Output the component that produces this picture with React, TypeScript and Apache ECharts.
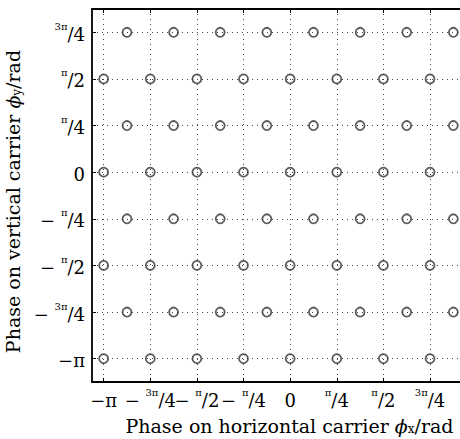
import React, { useEffect, useRef } from 'react';
import * as echarts from 'echarts';

// Units: multiples of pi/4
const Q = Math.PI / 4;
const tickUnits = [-4, -3, -2, -1, 0, 1, 2, 3];
const xTickLabels = [
  '{b|−π}',
  '{b|− }{s|3π}{b|/4}',
  '{b|− }{s|π}{b|/2}',
  '{b|− }{s|π}{b|/4}',
  '{b|0}',
  '{s|π}{b|/4}',
  '{s|π}{b|/2}',
  '{s|3π}{b|/4}',
];
const yTickLabels = [
  '{b|−π}',
  '{b|− }{s|3π}{b|/4}',
  '{b|− }{s|π}{b|/2}',
  '{b|− }{s|π}{b|/4}',
  '{b|0}',
  '{s|π}{b|/4}',
  '{s|π}{b|/2}',
  '{s|3π}{b|/4}',
];
const plainCols = [-4, -3, -2, -1, 0, 1, 2, 3];
const shiftedCols = [-3.5, -2.5, -1.5, -0.5, 0.5, 1.5, 2.5, 3.5];
const plainRows = [-4, -2, 0, 2];
const shiftedRows = [-3, -1, 1, 3];

const AXIS_MIN = (-17 * Math.PI) / 16;
const AXIS_MAX = (15 * Math.PI) / 16;

const FONT = 'DejaVu Serif';

const rich = {
  b: { fontFamily: FONT, fontSize: 18, color: '#000', lineHeight: 22, verticalAlign: 'bottom' },
  s: { fontFamily: FONT, fontSize: 10, color: '#000', lineHeight: 12, verticalAlign: 'top' },
};

const nameRich = {
  t: { fontFamily: FONT, fontSize: 19, color: '#000', lineHeight: 26, verticalAlign: 'bottom' },
  i: { fontFamily: FONT, fontSize: 19, fontStyle: 'italic', color: '#000', lineHeight: 26, verticalAlign: 'bottom' },
  sub: { fontFamily: FONT, fontSize: 12, color: '#000', lineHeight: 18, verticalAlign: 'bottom' },
};

const tickValues = tickUnits.map((u) => u * Q);

function labelFor(arr: string[]) {
  return (v: number) => {
    const idx = tickUnits.indexOf(Math.round(v / Q));
    return idx >= 0 ? arr[idx] : '';
  };
}

const gridLine = { show: true, lineStyle: { color: '#444', width: 1, type: [1, 4] as any } };

export default function App() {
  const ref = useRef<HTMLDivElement>(null);
  useEffect(() => {
    if (!ref.current) return;
    const chart = echarts.init(ref.current, undefined, { renderer: 'svg' });
    const points: number[][] = [];
    plainRows.forEach((r) => plainCols.forEach((c) => points.push([c * Q, r * Q])));
    shiftedRows.forEach((r) => shiftedCols.forEach((c) => points.push([c * Q, r * Q])));

    const axisLine = { show: true, onZero: false, lineStyle: { color: '#000', width: 1.8 } };
    const axisTick = { show: true, inside: true, length: 4, customValues: tickValues, lineStyle: { color: '#000', width: 1 } };

    chart.setOption({
      animation: false,
      backgroundColor: '#fff',
      textStyle: { fontFamily: FONT },
      grid: { left: 92, top: 9, width: 373, height: 373, containLabel: false, outerBoundsMode: 'none' },
      xAxis: [
        {
          type: 'value',
          min: AXIS_MIN,
          max: AXIS_MAX,
          position: 'bottom',
          axisLine,
          axisTick,
          splitLine: gridLine,
          axisLabel: {
            show: true,
            margin: 5,
            customValues: tickValues,
            formatter: labelFor(xTickLabels),
            fontFamily: FONT,
            rich,
          },
          name: '{t|Phase on horizontal carrier }{i|ϕ}{sub|x}{t|/rad}',
          nameLocation: 'middle',
          nameGap: 27,
          nameTextStyle: { fontFamily: FONT, rich: nameRich, padding: [0, 0, 0, 22] },
        },
        {
          type: 'value',
          min: AXIS_MIN,
          max: AXIS_MAX,
          position: 'top',
          axisLine,
          axisTick,
          splitLine: { show: false },
          axisLabel: { show: false },
        },
      ],
      yAxis: [
        {
          type: 'value',
          min: (-9 * Math.PI) / 8,
          max: (7 * Math.PI) / 8,
          position: 'left',
          axisLine,
          axisTick,
          splitLine: gridLine,
          axisLabel: {
            show: true,
            margin: 7,
            customValues: tickValues,
            formatter: labelFor(yTickLabels),
            fontFamily: FONT,
            rich,
          },
          name: '{t|Phase on vertical carrier }{i|ϕ}{sub|y}{t|/rad}',
          nameLocation: 'middle',
          nameGap: 56,
          nameRotate: 90,
          nameTextStyle: { fontFamily: FONT, rich: nameRich, padding: [0, 12, 0, 0] },
        },
        {
          type: 'value',
          min: (-9 * Math.PI) / 8,
          max: (7 * Math.PI) / 8,
          position: 'right',
          axisLine,
          axisTick,
          splitLine: { show: false },
          axisLabel: { show: false },
        },
      ],
      series: [
        {
          type: 'scatter',
          data: points,
          symbol: 'circle',
          symbolSize: 9,
          itemStyle: { color: 'rgba(0,0,0,0)', borderColor: '#333', borderWidth: 1.8 },
          z: 5,
        },
      ],
    });
    return () => chart.dispose();
  }, []);
  return <div ref={ref} style={{ position: 'absolute', left: 0, top: 0, width: 460, height: 439 }} />;
}
